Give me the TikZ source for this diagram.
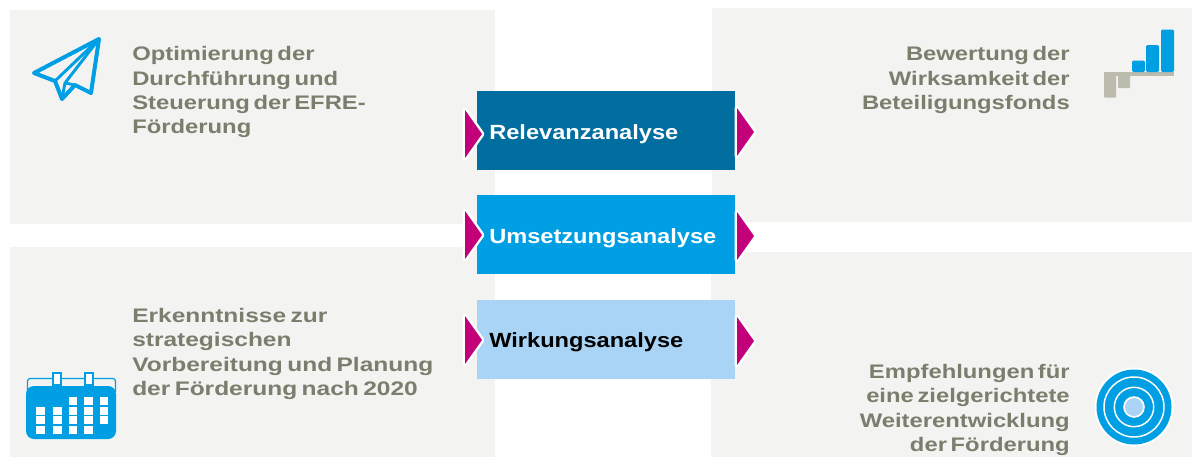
\documentclass[tikz,border=0pt]{standalone}
\usepackage{fontspec}
\setmainfont{Liberation Sans}[BoldFont={Liberation Sans Bold}]
\newfontfamily\mainwide{Liberation Sans Bold}[FakeStretch=1.215,WordSpace=0.55]
\newfontfamily\mainwider{Liberation Sans Bold}[FakeStretch=1.25,WordSpace=0.65]
\newfontfamily\anawide{Liberation Sans Bold}[FakeStretch=1.15]
\definecolor{panel}{HTML}{F3F3F1}
\definecolor{dark}{HTML}{026E9F}
\definecolor{mid}{HTML}{009FE3}
\definecolor{light}{HTML}{A9D4F5}
\definecolor{mag}{HTML}{C1007A}
\definecolor{txt}{HTML}{7D7D6E}
\definecolor{stone}{HTML}{BBBBAE}
\tikzset{
 panelbox/.style={fill=panel,draw=none},
 anabox/.style={draw=none,minimum width=193.5pt,minimum height=59.25pt,inner sep=0pt,anchor=north west},
 analabel/.style={font=\fontsize{15.4}{18}\selectfont\anawide,anchor=west,inner sep=0pt},
 maintext/.style={font=\fontsize{14.7}{18.25}\selectfont\mainwide,text=txt,inner sep=0pt,anchor=north west,align=left},
 widetext/.style={font=\fontsize{14.7}{18.4}\selectfont\mainwider,text=txt,inner sep=0pt,anchor=north west,align=left},
 righttext/.style={font=\fontsize{14.7}{18.4}\selectfont\mainwide,text=txt,inner sep=0pt,anchor=north east,align=right},
 triout/.style={fill=white,draw=white,line width=3.6pt,line join=round},
 tri/.style={fill=mag,draw=none},
 iconline/.style={draw=mid,line width=3pt,line join=round,line cap=round},
}
\begin{document}
\begin{tikzpicture}[x=0.75pt,y=-0.75pt]
\useasboundingbox (0,0) rectangle (1192,457);
\fill[white] (0,0) rectangle (1192,457);
% panels
\fill[panelbox] (10,10) rectangle (495,224);
\fill[panelbox] (712,8) rectangle (1192,222);
\fill[panelbox] (10,247) rectangle (495,457);
\fill[panelbox] (711,252) rectangle (1192,457);
% analysis boxes
\node[anabox,fill=dark] (rel) at (477,91) {};
\node[anabox,fill=mid] (ums) at (477,195) {};
\node[anabox,fill=light] (wir) at (477,300) {};
\node[analabel,text=white] (rellab) at (489,134) {Relevanzanalyse};
\node[analabel,text=white] (umslab) at (489,238) {Umsetzungsanalyse};
\node[analabel,text=black] (wirlab) at (489,342) {Wirkungsanalyse};
% triangles
\foreach \yc in {134,235,340}{
 \draw[triout] (465,\yc-24) -- (482,\yc) -- (465,\yc+24) -- cycle;
 \fill[tri] (465,\yc-24) -- (482,\yc) -- (465,\yc+24) -- cycle;
}
\foreach \yc in {132,236,341}{
 \draw[triout] (737,\yc-24) -- (754,\yc) -- (737,\yc+24) -- cycle;
 \fill[tri] (737,\yc-24) -- (754,\yc) -- (737,\yc+24) -- cycle;
}
% texts
\node[maintext] (t1) at (132,46.5) {Optimierung der\\Durchführung und\\Steuerung der EFRE-\\Förderung};
\node[widetext] (t2) at (132,307.7) {Erkenntnisse zur\\strategischen\\Vorbereitung und Planung\\der Förderung nach 2020};
\node[righttext] (t3) at (1070,46.2) {Bewertung der\\Wirksamkeit der\\Beteiligungsfonds};
\node[righttext] (t4) at (1070,363.7) {Empfehlungen für\\eine zielgerichtete\\Weiterentwicklung\\der Förderung};
% paper plane
\draw[iconline] (99,39) -- (34,73) -- (55,81) -- (62,99) -- (75,85) -- (91,93) -- cycle;
\draw[iconline,line width=2.2pt] (99,39) -- (55,81);
\draw[iconline,line width=2.2pt] (99,39) -- (65,83) -- (62,99);
\draw[iconline,line width=2.2pt] (65,83) -- (75,85);
% bar icon
\fill[stone] (1104,72) rectangle (1174,76);
\fill[stone,rounded corners=0.6pt] (1104,74) rectangle (1116,97.5);
\fill[stone,rounded corners=0.6pt] (1118,74) rectangle (1130,88);
\fill[mid,rounded corners=1pt] (1132,60.5) rectangle (1145,72);
\fill[mid,rounded corners=1pt] (1146,45) rectangle (1159,72);
\fill[mid,rounded corners=1pt] (1161,29.5) rectangle (1174,72);
% calendar icon
\draw[mid,line width=0.9pt,rounded corners=2pt] (27.5,392) -- (27.5,378.5) -- (115.5,378.5) -- (115.5,392);
\fill[mid,rounded corners=6pt] (26,386) rectangle (116,439);
\foreach \x in {57,89}{
 \draw[mid!60,line width=1.6pt,fill=white] (\x-4,373) rectangle (\x+4,385);
 \draw[mid,line width=0.8pt] (\x-4,373) rectangle (\x+4,385);
}
\foreach \x/\w/\ys in {36/9/{407,416,426},53/9/{407,416,426},69/8/{397,407,416,426},84/9/{397,407,416,426},100/8/{397,407,416}}{
 \foreach \y in \ys {
  \fill[white] (\x,\y) rectangle (\x+\w,\y+8);
 }
}
% target icon
\fill[white] (1134,407) circle (39.5);
\fill[mid] (1134,407) circle (37.5);
\draw[white,line width=1.1pt] (1134,407) circle (30);
\draw[white,line width=1.1pt] (1134,407) circle (19.7);
\fill[white] (1134,407) circle (10.8);
\fill[light] (1134,407) circle (9);
\end{tikzpicture}
\end{document}
